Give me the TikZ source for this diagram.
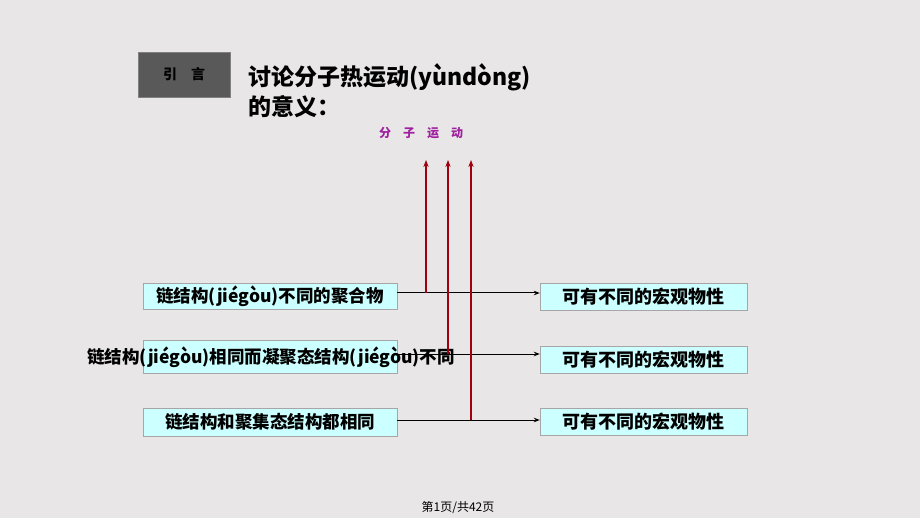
\documentclass[tikz,border=0pt]{standalone}
\usepackage{fontspec}
\setmainfont{Noto Sans CJK SC}
\usetikzlibrary{arrows.meta}
\definecolor{bg}{HTML}{E8E6E6}
\definecolor{cy}{HTML}{CCFFFF}
\definecolor{dr}{HTML}{A00010}
\definecolor{pu}{HTML}{A020A0}
\tikzset{lbox/.style={draw=gray!70,fill=cy,minimum width=254pt,inner sep=0pt},
lt/.style={font=\fontsize{17.5pt}{19pt}\selectfont\bfseries},
rbox/.style={draw=gray!70,fill=cy,minimum width=207pt,minimum height=27pt,inner sep=0pt,font=\fontsize{18pt}{19pt}\selectfont\bfseries},
bl/.style={-{Stealth[length=6pt]},line width=1pt},
rd/.style={-{Stealth[length=7pt]},draw=dr,line width=1.3pt}}
\begin{document}
\begin{tikzpicture}[x=1pt,y=-1pt]
\fill[bg] (0,0) rectangle (920,518);
\useasboundingbox (0,0) rectangle (920,518);
\node[draw=gray,fill=black!65,minimum width=92pt,minimum height=45pt,font=\fontsize{14pt}{16pt}\selectfont\bfseries] (yin) at (184,74.5) {引\quad 言};
\node[anchor=north west,align=left,font=\fontsize{23pt}{30pt}\selectfont\bfseries,inner sep=0pt] (title) at (248,63) {讨论分子热运动(yùndòng)\\的意义：};
\node[text=pu,font=\fontsize{12pt}{14pt}\selectfont\bfseries] (mol) at (421,133) {分\quad 子\quad 运\quad 动};
\node[lbox,minimum height=26pt] (l1) at (270,296) {};
\node[lt] at (l1) {链结构(jiégòu)不同的聚合物};
\node[lbox,minimum height=33pt] (l2) at (270,356.5) {};
\node[lt] at (271,357) {链结构(jiégòu)相同而凝聚态结构(jiégòu)不同};
\node[lbox,minimum height=28pt] (l3) at (270,422) {};
\node[lt] at (l3) {链结构和聚集态结构都相同};
\node[rbox] (r1) at (643.5,296.5) {可有不同的宏观物性};
\node[rbox] (r2) at (643.5,360) {可有不同的宏观物性};
\node[rbox] (r3) at (643.5,422) {可有不同的宏观物性};
\coordinate (t1) at (426,160);\coordinate (t2) at (448,160);\coordinate (t3) at (471,160);
\coordinate (j1) at (426,293);\coordinate (j2) at (448,354);\coordinate (j3) at (471,420);
\draw[bl] (397,293) -- (r1.west|-0,293);
\draw[bl] (397,354) -- (r2.west|-0,354);
\draw[bl] (397,420) -- (r3.west|-0,420);
\draw[rd] (j1) -- (t1);
\draw[rd] (j2) -- (t2);
\draw[rd] (j3) -- (t3);
\node[font=\fontsize{12pt}{14pt}\selectfont] (foot) at (458,508) {第1页/共42页};
\end{tikzpicture}
\end{document}
